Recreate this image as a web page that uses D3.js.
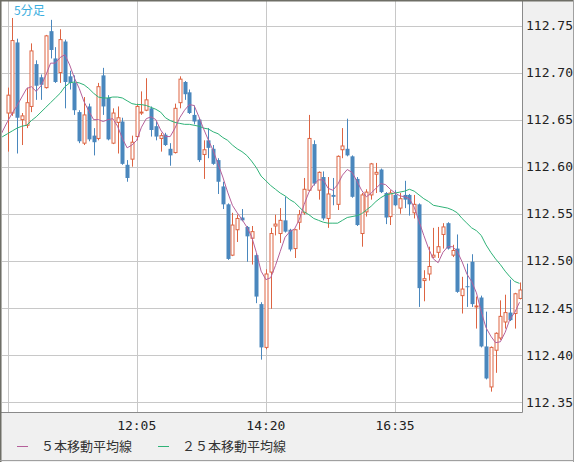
<!DOCTYPE html>
<html><head><meta charset="utf-8">
<script src="https://cdn.jsdelivr.net/npm/d3@7"></script>
<style>html,body{margin:0;padding:0;background:#f0f0f0;}svg{display:block;}</style>
</head><body>
<svg id="chart" width="574" height="462"></svg>
<script>
// ---- data ----
const startTime = "09:50";
const intervalMin = 5;
const openP = [
112.657,112.657,112.732,112.650,112.644,112.664,112.709,112.695,112.684,112.744,
112.715,112.700,112.733,112.696,112.689,112.658,112.625,112.664,112.633,112.630,
112.697,112.673,112.625,112.647,112.648,112.602,112.608,112.632,112.657,112.660,
112.662,112.643,112.630,112.634,112.619,112.615,112.668,112.690,112.679,112.655,
112.650,112.613,112.628,112.619,112.607,112.579,112.560,112.506,112.533,112.546,
112.536,112.524,112.506,112.454,112.408,112.488,112.537,112.529,112.543,112.533,
112.513,112.541,112.551,112.575,112.624,112.575,112.589,112.545,112.570,112.560,
112.618,112.619,112.611,112.587,112.529,112.552,112.570,112.592,112.597,112.572,
112.547,112.570,112.556,112.570,112.570,112.551,112.560,112.479,112.486,112.504,
112.509,112.528,112.540,112.506,112.513,112.463,112.473,112.499,112.451,112.461,
112.409,112.366,112.405,112.418,112.435,112.445,112.444,112.460];
const highP = [
112.684,112.758,112.736,112.657,112.684,112.731,112.713,112.698,112.740,112.756,
112.727,112.746,112.735,112.702,112.697,112.660,112.674,112.667,112.641,112.689,
112.705,112.676,112.662,112.664,112.652,112.607,112.633,112.667,112.680,112.694,
112.664,112.648,112.636,112.636,112.625,112.667,112.696,112.691,112.682,112.665,
112.651,112.628,112.641,112.623,112.609,112.584,112.561,112.551,112.549,112.555,
112.537,112.537,112.508,112.456,112.491,112.535,112.549,112.556,112.568,112.534,
112.534,112.554,112.588,112.655,112.628,112.595,112.595,112.589,112.588,112.612,
112.641,112.651,112.612,112.589,112.572,112.576,112.604,112.604,112.598,112.573,
112.575,112.575,112.572,112.585,112.571,112.570,112.561,112.490,112.515,112.535,
112.536,112.540,112.541,112.517,112.528,112.483,112.497,112.507,112.462,112.463,
112.446,112.409,112.424,112.458,112.464,112.480,112.466,112.477];
const lowP = [
112.616,112.654,112.614,112.623,112.641,112.658,112.671,112.671,112.683,112.715,
112.689,112.689,112.662,112.682,112.655,112.625,112.623,112.627,112.612,112.628,
112.655,112.628,112.624,112.614,112.602,112.584,112.600,112.628,112.655,112.659,
112.632,112.628,112.616,112.622,112.601,112.614,112.662,112.671,112.656,112.645,
112.605,112.587,112.609,112.602,112.571,112.555,112.501,112.505,112.520,112.542,
112.499,112.496,112.455,112.395,112.406,112.449,112.527,112.519,112.530,112.510,
112.503,112.533,112.549,112.574,112.580,112.565,112.543,112.535,112.559,112.554,
112.609,112.611,112.567,112.537,112.515,112.547,112.565,112.572,112.572,112.539,
112.538,112.558,112.550,112.556,112.548,112.545,112.451,112.457,112.479,112.503,
112.503,112.513,112.512,112.504,112.466,112.444,112.451,112.451,112.428,112.408,
112.374,112.361,112.381,112.416,112.428,112.436,112.428,112.459];
const closeP = [
112.676,112.734,112.652,112.654,112.668,112.723,112.686,112.687,112.739,112.724,
112.690,112.735,112.690,112.689,112.660,112.627,112.655,112.629,112.626,112.685,
112.664,112.629,112.657,112.652,112.603,112.588,112.626,112.664,112.658,112.671,
112.639,112.632,112.633,112.623,112.612,112.662,112.693,112.677,112.657,112.648,
112.607,112.618,112.620,112.603,112.584,112.560,112.502,112.538,112.545,112.543,
112.526,112.531,112.462,112.408,112.486,112.529,112.539,112.543,112.531,112.512,
112.533,112.549,112.576,112.630,112.582,112.594,112.545,112.571,112.568,112.611,
112.622,112.612,112.568,112.538,112.570,112.573,112.603,112.594,112.573,112.546,
112.572,112.559,112.566,112.565,112.560,112.560,112.471,112.481,112.494,112.506,
112.515,112.536,112.513,112.511,112.467,112.470,112.472,112.454,112.452,112.409,
112.375,112.408,112.423,112.441,112.445,112.437,112.465,112.469];
// moving averages (begin 2 bars before the first visible candle)
const maLead = 2;
const ma5 = [
112.627,112.638,112.648,112.657,112.665,112.674,112.683,112.685,112.680,112.686,
112.697,112.710,112.710,112.716,112.719,112.708,112.694,112.683,112.669,112.659,
112.650,112.650,112.648,112.650,112.651,112.643,112.630,112.620,112.623,112.628,
112.642,112.651,112.653,112.650,112.639,112.632,112.632,112.641,112.652,112.660,
112.666,112.665,112.653,112.640,112.628,112.617,112.603,112.589,112.573,112.559,
112.551,112.544,112.536,112.526,112.509,112.489,112.480,112.482,112.495,112.510,
112.525,112.531,112.534,112.544,112.560,112.573,112.581,112.586,112.586,112.577,
112.575,112.581,112.591,112.597,112.594,112.585,112.575,112.568,112.572,112.577,
112.582,112.581,112.576,112.572,112.569,112.568,112.566,112.557,112.542,112.527,
112.513,112.502,112.498,112.509,112.515,112.515,112.510,112.499,112.486,112.478,
112.466,112.446,112.429,112.420,112.413,112.414,112.424,112.438,112.445,112.456];
const ma25 = [
112.629,112.632,112.635,112.638,112.641,112.643,112.644,112.649,112.653,112.658,
112.663,112.668,112.673,112.678,112.685,112.689,112.690,112.689,112.687,112.683,
112.678,112.674,112.673,112.673,112.674,112.674,112.673,112.670,112.667,112.666,
112.666,112.665,112.663,112.661,112.658,112.652,112.649,112.647,112.646,112.645,
112.645,112.644,112.643,112.641,112.640,112.637,112.635,112.631,112.628,112.623,
112.619,112.616,112.612,112.606,112.599,112.590,112.585,112.580,112.576,112.572,
112.569,112.565,112.562,112.557,112.552,112.549,112.545,112.543,112.541,112.540,
112.540,112.540,112.543,112.546,112.547,112.548,112.550,112.554,112.558,112.563,
112.567,112.570,112.571,112.572,112.573,112.574,112.576,112.574,112.570,112.566,
112.563,112.559,112.558,112.557,112.556,112.554,112.551,112.545,112.540,112.535,
112.532,112.527,112.517,112.509,112.502,112.496,112.489,112.483,112.478,112.476];
const yTicks = [112.35,112.40,112.45,112.50,112.55,112.60,112.65,112.70,112.75];
const xTickLabels = ["09:50","12:05","14:20","16:35"];
const chartTitle = "5分足";
const legendNames = ["５本移動平均線","２５本移動平均線"];

// ---- build ----
const [sh, sm] = startTime.split(":").map(Number);
const times = openP.map((_, i) => {
  const t = sh * 60 + sm + i * intervalMin;
  return String(Math.floor(t / 60)).padStart(2, "0") + ":" + String(t % 60).padStart(2, "0");
});
const candles = openP.map((o, i) => ({i, o, h: highP[i], l: lowP[i], c: closeP[i]}));

const W = 574, H = 462;
const plot = {l: 2, r: 522.5, t: 1, b: 412.5};
const x = d3.scaleLinear().domain([0, 107]).range([7.5, 519.5]);
const y = d3.scaleLinear().domain([112.35, 112.75]).range([402, 25.5]);

const RED = "#dd6442", BLUE = "#4a87bd", PINK = "#b5609a", GREEN = "#2fb277";

const svg = d3.select("#chart");
svg.append("rect").attr("width", W).attr("height", H).attr("fill", "#f0f0f0");
svg.append("rect").attr("x", plot.l).attr("y", plot.t)
  .attr("width", plot.r - plot.l).attr("height", plot.b - plot.t).attr("fill", "#fff");

svg.append("defs").append("clipPath").attr("id", "clip")
  .append("rect").attr("x", plot.l).attr("y", plot.t)
  .attr("width", plot.r - plot.l).attr("height", plot.b - plot.t);

// grid
const grid = svg.append("g").attr("stroke", "#c8c8c8").attr("stroke-width", 1);
grid.selectAll("line.h").data(yTicks).join("line")
  .attr("x1", plot.l).attr("x2", plot.r)
  .attr("y1", d => Math.round(y(d)) + 0.5).attr("y2", d => Math.round(y(d)) + 0.5);
const xTickIdx = xTickLabels.map(t => times.indexOf(t));
grid.selectAll("line.v").data(xTickIdx).join("line")
  .attr("y1", plot.t).attr("y2", plot.b)
  .attr("x1", d => Math.round(x(d)) + 0.5).attr("x2", d => Math.round(x(d)) + 0.5);

const g = svg.append("g").attr("clip-path", "url(#clip)");

// candles
const bw = 4;
const cg = g.selectAll("g.c").data(candles).join("g");
cg.append("line")
  .attr("x1", d => Math.round(x(d.i)) + 0.5).attr("x2", d => Math.round(x(d.i)) + 0.5)
  .attr("y1", d => y(d.h)).attr("y2", d => y(d.l))
  .attr("stroke", d => d.c >= d.o ? RED : BLUE).attr("stroke-width", 1);
cg.each(function(d) {
  const sel = d3.select(this);
  const top = y(Math.max(d.o, d.c)), bot = y(Math.min(d.o, d.c));
  const cx = Math.round(x(d.i)) + 0.5;
  if (d.c >= d.o) {
    sel.append("rect").attr("x", cx - 1.5).attr("y", top)
      .attr("width", 3).attr("height", Math.max(0.5, bot - top))
      .attr("fill", "#fff").attr("stroke", RED).attr("stroke-width", 1);
  } else {
    sel.append("rect").attr("x", cx - 2).attr("y", top)
      .attr("width", bw).attr("height", Math.max(1, bot - top))
      .attr("fill", BLUE);
  }
});

// moving averages
const maLine = d3.line().x((d, k) => x(k - maLead)).y(d => y(d));
g.append("path").datum(ma25).attr("d", maLine).attr("fill", "none")
  .attr("stroke", GREEN).attr("stroke-width", 1);
g.append("path").datum(ma5).attr("d", maLine).attr("fill", "none")
  .attr("stroke", PINK).attr("stroke-width", 1);

// borders
svg.append("line").attr("x1", plot.r).attr("x2", plot.r).attr("y1", 0).attr("y2", plot.b)
  .attr("stroke", "#8a8a8a").attr("stroke-width", 1);
svg.append("line").attr("x1", 0).attr("x2", plot.r).attr("y1", plot.b).attr("y2", plot.b)
  .attr("stroke", "#8a8a8a").attr("stroke-width", 1);
svg.append("line").attr("x1", 0).attr("x2", W).attr("y1", 0.75).attr("y2", 0.75)
  .attr("stroke", "#6e6e66").attr("stroke-width", 1.5);
svg.append("line").attr("x1", 0.75).attr("x2", 0.75).attr("y1", 0).attr("y2", H)
  .attr("stroke", "#6e6e66").attr("stroke-width", 1.5);
svg.append("line").attr("x1", W - 0.5).attr("x2", W - 0.5).attr("y1", 0).attr("y2", H)
  .attr("stroke", "#a0a0a0").attr("stroke-width", 1);
svg.append("line").attr("x1", 0).attr("x2", W).attr("y1", H - 1.5).attr("y2", H - 1.5)
  .attr("stroke", "#a0a0a0").attr("stroke-width", 1);

// y axis labels
svg.append("g").selectAll("text").data(yTicks).join("text")
  .attr("x", 526).attr("y", d => y(d)).attr("dy", "0.36em")
  .attr("font-family", "DejaVu Sans Mono, monospace").attr("font-size", 13)
  .attr("fill", "#222").text(d => d.toFixed(2));

// x axis labels (skip those clipped at the left edge)
svg.append("g").selectAll("text").data(xTickIdx.filter(i => x(i) > 30)).join("text")
  .attr("x", d => x(d)).attr("y", 430).attr("text-anchor", "middle")
  .attr("font-family", "DejaVu Sans Mono, monospace").attr("font-size", 13)
  .attr("fill", "#222").text(d => times[d]);

// title
svg.append("text").attr("x", 14).attr("y", 15)
  .attr("font-family", "Noto Sans CJK JP, sans-serif").attr("font-size", 12)
  .attr("fill", "#3aaee0").text(chartTitle);

// legend
const legX = [17, 158];
const legC = [PINK, GREEN];
legendNames.forEach((n, k) => {
  svg.append("line").attr("x1", legX[k]).attr("x2", legX[k] + 11)
    .attr("y1", 446.5).attr("y2", 446.5).attr("stroke", legC[k]).attr("stroke-width", 1);
  svg.append("text").attr("x", legX[k] + 24).attr("y", 451)
    .attr("font-family", "Noto Sans CJK JP, sans-serif").attr("font-size", 13)
    .attr("fill", "#333").text(n);
});
</script>
</body></html>
